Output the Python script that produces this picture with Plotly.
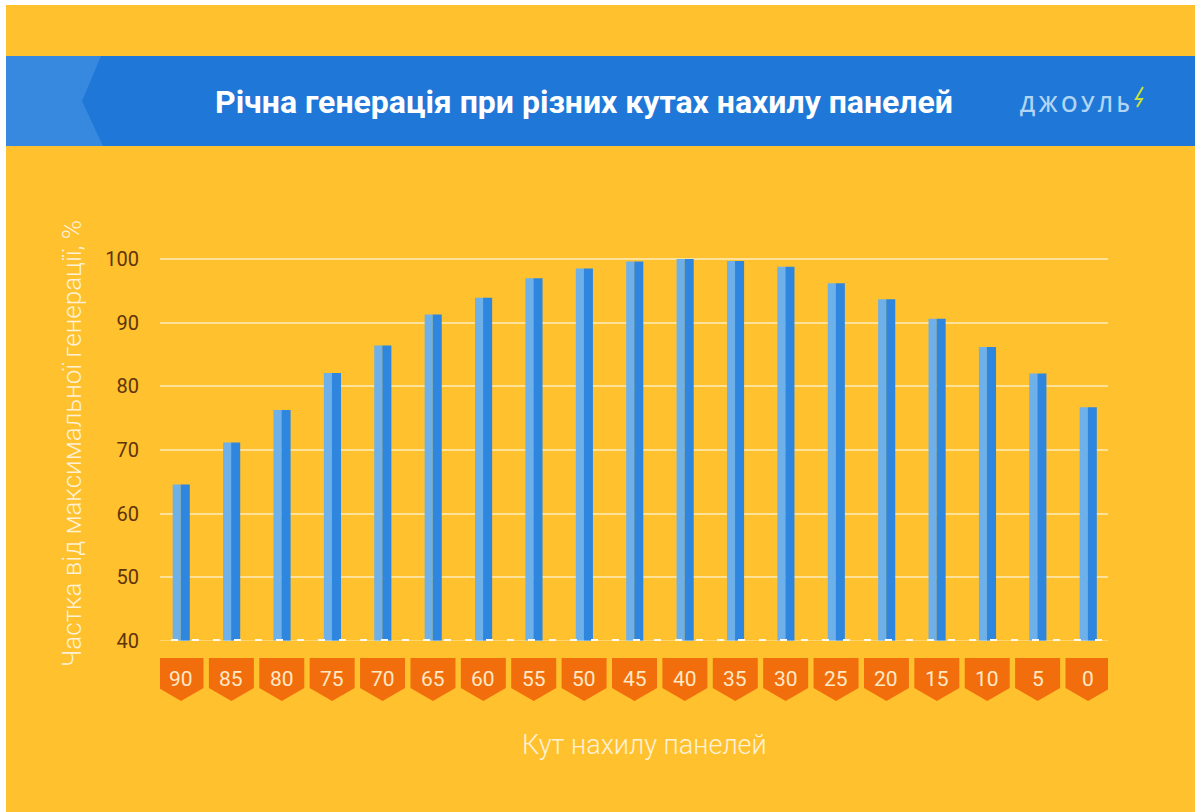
import plotly.graph_objects as go

# Tilt angle of the panels (degrees) and yearly generation as share of maximum (%)
angles = ["90", "85", "80", "75", "70", "65", "60", "55", "50", "45",
          "40", "35", "30", "25", "20", "15", "10", "5", "0"]
share = [64.6, 71.2, 76.3, 82.1, 86.4, 91.3, 93.9, 97.0, 98.5, 99.6,
         100.0, 99.7, 98.8, 96.2, 93.7, 90.6, 86.2, 82.0, 76.7]
y_ticks = [40, 50, 60, 70, 80, 90, 100]

title = "Річна генерація при різних кутах нахилу панелей"
y_title = "Частка від максимальної генерації, %"
x_title = "Кут нахилу панелей"
brand = "ДЖОУЛЬ"

# Canvas geometry (pixels)
W, H = 1195, 812
PLOT_L, PLOT_R = 160, 1108
Y_BASE_PX, Y_TOP_PX = 641, 227.2
Y_MIN, Y_MAX = 40, 105
CAT_FIRST_PX, CAT_LAST_PX = 181, 1088

YELLOW = "#FFC12E"
BLUE = "#1F78D8"
BLUE_LIGHT = "#3788DF"
BAR_LIGHT = "#6DB0EA"
BAR_DARK = "#2F86DE"
ORANGE = "#F26E0D"
CREAM = "#FFF1D6"
BROWN = "#5E3409"
FONT = "Roboto, Lato, sans-serif"


def px(x):
    return x / W


def py(y):
    return 1 - y / H


n = len(angles)
idx = list(range(n))
step = (CAT_LAST_PX - CAT_FIRST_PX) / (n - 1)
x_lo = -(CAT_FIRST_PX - PLOT_L) / step
x_hi = (n - 1) + (PLOT_R - CAT_LAST_PX) / step

fig = go.Figure()
# Each column is drawn as a light left half and a darker right half
fig.add_trace(go.Bar(x=idx, y=share, width=0.16, offset=-0.165,
                     marker=dict(color=BAR_LIGHT, line=dict(width=0)),
                     hoverinfo="skip", showlegend=False))
fig.add_trace(go.Bar(x=idx, y=share, width=0.18, offset=-0.005,
                     marker=dict(color=BAR_DARK, line=dict(width=0)),
                     customdata=angles,
                     hovertemplate="%{customdata}°: %{y}%<extra></extra>",
                     showlegend=False))

shapes = []
annotations = []

# White frame strips along the top and left edges
shapes.append(dict(type="rect", xref="paper", yref="paper", x0=0, x1=1,
                   y0=py(5), y1=1, fillcolor="white", line=dict(width=0), layer="below"))
shapes.append(dict(type="rect", xref="paper", yref="paper", x0=0, x1=px(6),
                   y0=0, y1=1, fillcolor="white", line=dict(width=0), layer="below"))

# Title banner with a lighter chevron at its left end
shapes.append(dict(type="rect", xref="paper", yref="paper", x0=px(6), x1=1,
                   y0=py(146), y1=py(56), fillcolor=BLUE, line=dict(width=0)))
chev = [(6, 56), (101, 56), (82, 101), (103, 146), (6, 146)]
path = "M " + " L ".join(f"{px(a):.5f},{py(b):.5f}" for a, b in chev) + " Z"
shapes.append(dict(type="path", xref="paper", yref="paper", path=path,
                   fillcolor=BLUE_LIGHT, line=dict(width=0)))

# Lightning bolt next to the brand name
bolt = [(1143, 87), (1136, 99), (1142, 99), (1137, 107)]
bpath = "M " + " L ".join(f"{px(a):.5f},{py(b):.5f}" for a, b in bolt)
shapes.append(dict(type="path", xref="paper", yref="paper", path=bpath,
                   line=dict(color="#C9E23A", width=2)))

# Dashed baseline at the bottom of the value axis
shapes.append(dict(type="line", xref="paper", yref="y", x0=px(PLOT_L), x1=px(PLOT_R),
                   y0=Y_MIN, y1=Y_MIN, line=dict(color="rgba(255,245,225,0.7)", width=1),
                   layer="above"))
shapes.append(dict(type="line", xref="paper", yref="y", x0=px(PLOT_L + 11), x1=px(PLOT_R),
                   y0=Y_MIN, y1=Y_MIN,
                   line=dict(color="#FFFAF0", width=4, dash="7px,14px"), layer="above"))

# Orange pentagon badges carrying the category labels
half = 22.5 / step
b_top, b_side, b_tip = 658, 688, 701
for i, lab in enumerate(angles):
    pts = [(i - half, b_top), (i + half, b_top), (i + half, b_side),
           (i, b_tip), (i - half, b_side)]
    p = "M " + " L ".join(f"{a:.4f},{py(b):.5f}" for a, b in pts) + " Z"
    shapes.append(dict(type="path", xref="x", yref="paper", path=p,
                       fillcolor=ORANGE, line=dict(width=0)))
    annotations.append(dict(x=i, y=py(679), xref="x", yref="paper", text=lab,
                            showarrow=False, xanchor="center", yanchor="middle",
                            font=dict(family=FONT, size=21, color="#FFE9C6", weight=400)))

annotations.append(dict(x=px(584), y=py(102), xref="paper", yref="paper", text=f"<b>{title}</b>",
                        showarrow=False, xanchor="center", yanchor="middle",
                        font=dict(family=FONT, size=32, color="white")))
annotations.append(dict(x=px(1075), y=py(104), xref="paper", yref="paper",
                        text="\u2009".join(brand), showarrow=False,
                        xanchor="center", yanchor="middle",
                        font=dict(family="Open Sans, sans-serif", size=21, color="#B2D5F4",
                                  weight=600)))
annotations.append(dict(x=px(72), y=py(444), xref="paper", yref="paper", text=y_title,
                        textangle=-90, showarrow=False, xanchor="center", yanchor="middle",
                        font=dict(family=FONT, size=26, color=CREAM, weight=300)))
annotations.append(dict(x=px(644), y=py(745), xref="paper", yref="paper", text=x_title,
                        showarrow=False, xanchor="center", yanchor="middle",
                        font=dict(family=FONT, size=27, color=CREAM, weight=300)))

fig.update_layout(
    width=W, height=H, autosize=False,
    margin=dict(l=0, r=0, t=0, b=0, pad=0),
    paper_bgcolor=YELLOW, plot_bgcolor=YELLOW,
    barmode="overlay",
    shapes=shapes, annotations=annotations,
    xaxis=dict(domain=[px(PLOT_L), px(PLOT_R)], range=[x_lo, x_hi], automargin=False,
               showgrid=False, zeroline=False, showticklabels=False, fixedrange=True),
    yaxis=dict(domain=[py(Y_BASE_PX), py(Y_TOP_PX)], range=[Y_MIN, Y_MAX], automargin=False,
               tickvals=y_ticks, ticktext=[str(v) for v in y_ticks],
               showgrid=True, gridcolor="rgba(255,236,190,0.75)", gridwidth=1.5,
               zeroline=False, showline=False, ticks="", ticklabelstandoff=20,
               tickfont=dict(family=FONT, size=20, color=BROWN, weight=400), fixedrange=True),
    hovermode="closest",
)

fig.write_html("out.html")
